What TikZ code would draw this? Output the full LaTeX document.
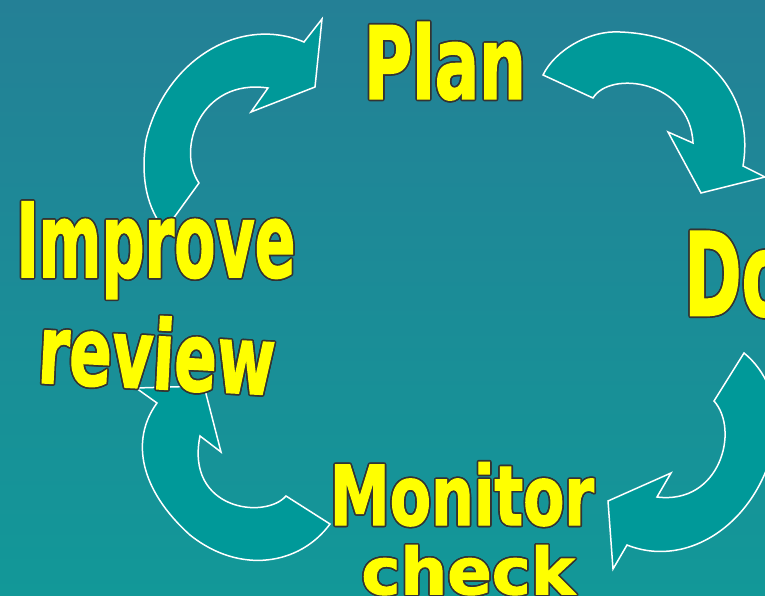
\documentclass[tikz,border=0pt]{standalone}
\usepackage{fontspec}
\usepackage{graphicx}
\usepackage{contour}
\newfontfamily\wafont{DejaVu Sans Condensed}[BoldFeatures={FakeBold=1.5}]
\contourlength{1.6pt}
\definecolor{bgtop}{RGB}{36,128,150}
\definecolor{bgbottom}{RGB}{18,152,152}
\definecolor{arrowfill}{RGB}{0,153,153}
\definecolor{wayellow}{RGB}{255,255,0}
\definecolor{waedge}{RGB}{51,51,51}
\newcommand{\wordart}[3]{\contour{waedge}{\resizebox*{#1}{#2}{\wafont\bfseries #3}}}
\begin{document}
\begin{tikzpicture}[x=1pt,y=-1pt,
    cyclearrow/.style={fill=arrowfill, draw=white, line width=1.5pt},
    wordart/.style={inner sep=0pt, text=wayellow}]
    \useasboundingbox (0,0) rectangle (765,596);
    \clip (0,0) rectangle (765,596);
    \shade[top color=bgtop, bottom color=bgbottom] (0,0) rectangle (765,596);

    % improve -> plan
    \draw[cyclearrow] (165,230) -- (199,183)
    .. controls (176,150) and (200,78) .. (268,88)
    -- (251,112) -- (315,87) -- (322,19) -- (304,42)
    .. controls (240,15) and (165,60) .. (146,140)
    .. controls (140,180) and (148,210) .. (165,230) -- cycle;

    % plan -> do
    \draw[cyclearrow] (543,75) -- (593,98)
    .. controls (610,70) and (690,80) .. (693,143)
    -- (668,132) -- (701,193) -- (765,177) -- (743,166)
    .. controls (755,95) and (705,35) .. (620,32)
    .. controls (590,30) and (555,50) .. (543,75) -- cycle;

    % do -> check
    \draw[cyclearrow] (744,353) -- (714,401)
    .. controls (740,430) and (720,505) .. (657,497)
    -- (671,473) -- (608,501) -- (613,569) -- (627,545)
    .. controls (690,570) and (760,520) .. (775,440)
    .. controls (780,400) and (765,370) .. (744,353) -- cycle;

    % check -> review
    \draw[cyclearrow] (330,524) -- (286,496)
    .. controls (265,520) and (185,510) .. (200,436)
    -- (221,452) -- (204,386) -- (136,388) -- (157,403)
    .. controls (130,440) and (140,490) .. (190,535)
    .. controls (240,575) and (300,565) .. (330,524) -- cycle;

    \node[wordart] (plan) at (445,62) {\wordart{162pt}{78pt}{Plan}};
    \node[wordart, anchor=west] (do) at (684,275) {\wordart{105pt}{86pt}{Do}};
    \node[wordart] (improve) at (156,251) {\wordart{279pt}{97pt}{Improve}};
    \node[wordart, rotate=-3] (review) at (157,354) {\wordart{237pt}{74pt}{review}};
    \node[wordart] (monitor) at (462,495) {\wordart{264pt}{64pt}{Monitor}};
    \node[wordart] (check) at (468,571) {\wordart{213pt}{50pt}{check}};
\end{tikzpicture}
\end{document}
